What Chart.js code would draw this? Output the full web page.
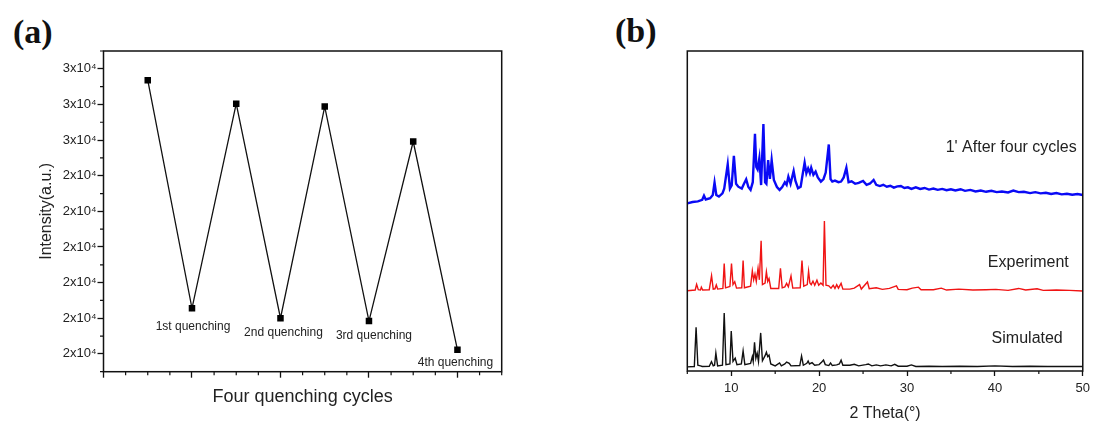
<!DOCTYPE html>
<html>
<head>
<meta charset="utf-8">
<script src="https://cdn.jsdelivr.net/npm/chart.js@4.4.1/dist/chart.umd.min.js"></script>
<style>
html, body { margin: 0; padding: 0; background: #fff; }
#wrap { position: relative; width: 1095px; height: 425px; overflow: hidden; }
canvas { position: absolute; top: 0; }
.tag { position: absolute; font-family: "Liberation Serif", serif; font-weight: bold; font-size: 34px; line-height: 1; color: #111; }
</style>
</head>
<body>
<div id="wrap">
  <div class="tag" style="left:13px;top:15px">(a)</div>
  <div class="tag" style="left:615px;top:14px">(b)</div>
  <canvas id="cycles" width="560" height="425" style="left:0;width:560px;height:425px"></canvas>
  <canvas id="xrd" width="535" height="425" style="left:560px;width:535px;height:425px"></canvas>
</div>
<script>
// ---- panel (a): intensity over quenching cycles ----
const cycleX = [0.5, 1, 1.5, 2, 2.5, 3, 3.5, 4];
const cycleIntensity = [28520, 18920, 27530, 18500, 27410, 18380, 25940, 17170];
const quenchLabels = ['', '1st quenching', '', '2nd quenching', '', '3rd quenching', '', '4th quenching'];
const yTickValues = [17000, 18500, 20000, 21500, 23000, 24500, 26000, 27500, 29000];
const yTickLabels = ['2x10⁴', '2x10⁴', '2x10⁴', '2x10⁴', '2x10⁴', '2x10⁴', '3x10⁴', '3x10⁴', '3x10⁴'];
const cycleTicks = [0, 1, 2, 3, 4];

// ---- panel (b): XRD patterns ----
const simTheta = [5.0, 5.8, 6.0, 6.2, 6.5, 6.7, 7.5, 7.75, 7.95, 8.1, 8.25, 8.45, 9.0, 9.2, 9.4, 9.85, 10.0, 10.2, 10.45, 10.65,
  11.15, 11.35, 11.55, 12.2, 12.4, 12.5, 12.65, 12.8, 12.95, 13.1, 13.35, 13.55, 13.85, 14.0, 14.15, 14.3, 14.5, 15.0, 15.5, 15.7,
  16.1, 16.3, 16.6, 16.8, 17.8, 18.0, 18.2, 18.6, 18.75, 18.9, 19.2, 19.5, 20.0, 20.3, 20.5, 20.7, 21.1, 21.3, 21.5, 22.0,
  22.3, 22.5, 22.7, 23.5, 24.0, 24.5, 25.3, 25.6, 26.0, 26.5, 27.0, 27.6, 28.2, 28.6, 29.0, 30.0, 30.5, 31.0, 32.5, 34.0,
  36.0, 38.0, 40.0, 42.0, 44.0, 46.0, 48.0, 50.0];
const simIntensity = [1.3, 1.4, 13.7, 1.8, 1.6, 1.4, 1.5, 2.9, 1.6, 1.8, 5.6, 1.6, 1.8, 18.1, 2.0, 2.2, 12.5, 3.0, 4.0, 2.0,
  2.2, 6.3, 2.0, 2.4, 4.5, 3.0, 9.0, 4.0, 5.6, 3.0, 11.9, 3.2, 4.8, 5.9, 4.5, 5.0, 2.2, 1.6, 2.5, 1.6,
  2.2, 2.8, 2.4, 1.6, 1.7, 4.7, 1.8, 2.4, 3.1, 2.2, 2.6, 1.8, 2.0, 2.8, 3.4, 2.0, 1.7, 2.5, 1.7, 1.9,
  2.2, 3.4, 1.8, 1.8, 2.1, 1.6, 2.0, 2.2, 1.6, 1.9, 1.6, 1.9, 1.6, 2.1, 1.5, 1.5, 1.9, 1.4, 1.5, 1.4,
  1.5, 1.4, 1.6, 1.4, 1.5, 1.4, 1.4, 1.4];

const expTheta = [5.0, 5.9, 6.06, 6.25, 6.5, 6.6, 6.75, 7.5, 7.76, 7.95, 8.15, 8.3, 8.45, 9.05, 9.2, 9.35, 9.85, 10.03, 10.2, 10.4,
  10.6, 11.2, 11.35, 11.5, 12.2, 12.4, 12.55, 12.7, 12.85, 13.05, 13.2, 13.4, 13.55, 13.85, 14.0, 14.15, 14.3, 14.5, 15.4, 15.6,
  15.8, 16.1, 16.3, 16.5, 16.8, 17.0, 17.85, 18.05, 18.25, 18.65, 18.8, 18.95, 19.1, 19.3, 19.5, 19.75, 19.95, 20.2, 20.45, 20.6,
  20.78, 21.1, 21.35, 21.6, 21.8, 22.0, 22.2, 22.5, 22.7, 23.5, 24.0, 24.6, 24.8, 25.5, 25.7, 26.5, 27.2, 28.0, 28.8, 29.0,
  30.0, 30.6, 31.3, 31.6, 33.0, 33.9, 34.5, 35.9, 37.5, 39.0, 40.1, 41.5, 42.7, 43.5, 44.8, 45.5, 47.0, 48.5, 50.0];
const expIntensity = [25.1, 25.3, 27.1, 25.4, 25.3, 26.2, 25.3, 25.4, 29.8, 25.6, 25.7, 26.9, 25.6, 25.8, 33.6, 26.0, 26.4, 33.6, 27.0, 27.9,
  25.9, 26.0, 34.5, 26.0, 26.5, 31.3, 28.5, 30.3, 28.0, 32.1, 28.5, 40.7, 27.0, 27.5, 31.0, 28.0, 28.9, 25.8, 25.8, 32.1,
  26.0, 26.3, 27.4, 26.3, 29.7, 25.9, 26.0, 34.5, 26.5, 27.0, 31.2, 27.5, 27.0, 28.1, 26.8, 28.4, 26.8, 27.5, 26.8, 46.9,
  26.8, 26.6, 25.9, 26.8, 25.8, 27.0, 25.9, 27.4, 25.6, 25.6, 25.9, 27.0, 25.6, 27.8, 25.7, 26.0, 25.5, 25.8, 26.6, 25.5,
  25.4, 25.9, 26.2, 25.4, 25.4, 25.9, 25.3, 25.6, 25.3, 25.4, 25.5, 25.2, 25.8, 25.3, 25.7, 25.2, 25.3, 25.2, 25.0];

const afterTheta = [5.0, 5.6, 6.2, 6.7, 6.9, 7.1, 7.6, 7.9, 8.1, 8.3, 8.6, 9.0, 9.2, 9.6, 9.85, 10.05, 10.3, 10.55, 10.8, 11.2,
  11.45, 11.7, 11.95, 12.2, 12.45, 12.7, 12.85, 13.0, 13.2, 13.4, 13.66, 13.85, 14.0, 14.2, 14.4, 14.6, 14.85, 15.2, 15.5, 15.8,
  16.1, 16.3, 16.5, 16.75, 17.1, 17.3, 17.6, 17.9, 18.1, 18.35, 18.55, 18.75, 18.95, 19.1, 19.35, 19.6, 19.85, 20.2, 20.5, 20.75,
  21.1, 21.3, 21.5, 21.8, 22.2, 22.5, 22.8, 23.1, 23.35, 23.7, 24.1, 24.5, 25.0, 25.4, 25.8, 26.2, 26.5, 26.9, 27.3, 27.7,
  28.1, 28.5, 28.9, 29.3, 29.7, 30.1, 30.5, 31.0, 31.5, 32.0, 32.5, 33.0, 33.5, 34.0, 34.5, 35.0, 35.5, 36.1, 36.6, 37.2,
  37.8, 38.4, 39.0, 39.6, 40.2, 40.8, 41.5, 42.1, 42.7, 43.3, 44.0, 44.6, 45.2, 45.8, 46.4, 47.0, 47.6, 48.2, 48.8, 49.4, 50.0];
const afterIntensity = [52.4, 52.8, 53.0, 53.5, 54.8, 53.6, 54.0, 55.0, 58.9, 55.0, 54.5, 55.5, 57.0, 64.6, 57.0, 58.0, 67.2, 58.5, 57.6, 57.0,
  58.5, 59.9, 57.5, 56.6, 59.0, 74.1, 63.8, 63.0, 66.5, 58.1, 77.2, 59.0, 58.5, 65.9, 60.0, 65.9, 59.7, 57.5, 56.6, 57.5,
  59.0, 58.2, 60.7, 58.5, 62.5, 59.5, 57.1, 57.6, 61.0, 65.1, 61.8, 63.3, 61.8, 63.5, 61.3, 62.3, 60.5, 59.2, 60.0, 62.0,
  70.8, 60.0, 59.2, 59.5, 59.0, 59.2, 60.5, 63.5, 59.0, 59.3, 58.5, 58.8, 59.4, 58.2, 58.6, 59.7, 58.2, 57.8, 58.2, 57.6,
  57.9, 57.3, 57.7, 57.8, 57.2, 57.4, 56.9, 57.4, 56.9, 57.2, 56.7, 57.0, 56.6, 56.9, 56.5, 56.8, 56.4, 56.8, 56.3, 56.6,
  56.1, 56.4, 56.0, 56.3, 55.9, 56.1, 55.8, 56.4, 55.9, 56.0, 55.6, 55.9, 55.5, 55.7, 55.3, 55.6, 55.2, 55.4, 55.1, 55.3, 55.0];
const seriesNames = ["1' After four cycles", 'Experiment', 'Simulated'];
const thetaTicks = [10, 20, 30, 40, 50];

const FONT = '"Liberation Sans", Arial, sans-serif';
const toPoints = (xs, ys) => xs.map((x, i) => ({ x: x, y: ys[i] }));

// box around the plot area plus the short minor ticks
const frame = {
  id: 'frame',
  afterDraw(chart, args, opts) {
    const { ctx, chartArea: a, scales } = chart;
    ctx.save();
    ctx.strokeStyle = '#111';
    ctx.lineWidth = 1.5;
    ctx.strokeRect(a.left, a.top, a.right - a.left, a.bottom - a.top);
    ctx.lineWidth = 1.2;
    ctx.beginPath();
    (opts.minorX || []).forEach(v => {
      const px = scales.x.getPixelForValue(v);
      ctx.moveTo(px, a.bottom);
      ctx.lineTo(px, a.bottom + opts.minorLen);
    });
    (opts.minorY || []).forEach(v => {
      const py = scales.y.getPixelForValue(v);
      ctx.moveTo(a.left, py);
      ctx.lineTo(a.left - opts.minorLen, py);
    });
    ctx.stroke();
    ctx.restore();
  }
};

// "nth quenching" under the low points
const pointNotes = {
  id: 'pointNotes',
  afterDatasetsDraw(chart, args, opts) {
    const ctx = chart.ctx;
    const meta = chart.getDatasetMeta(0);
    ctx.save();
    ctx.font = '12px ' + FONT;
    ctx.fillStyle = '#222';
    ctx.textAlign = 'center';
    ctx.textBaseline = 'middle';
    quenchLabels.forEach((t, i) => {
      if (!t) return;
      const el = meta.data[i];
      ctx.fillText(t, el.x + opts.dx[i], el.y + opts.dy[i]);
    });
    ctx.restore();
  }
};

// series names at the right end of each pattern
const seriesNotes = {
  id: 'seriesNotes',
  afterDatasetsDraw(chart, args, opts) {
    const ctx = chart.ctx;
    ctx.save();
    ctx.font = '16px ' + FONT;
    ctx.fillStyle = '#222';
    ctx.textAlign = 'right';
    ctx.textBaseline = 'middle';
    chart.data.datasets.forEach((ds, i) => {
      const pts = chart.getDatasetMeta(i).data;
      const last = pts[pts.length - 1];
      ctx.fillText(seriesNames[i], chart.chartArea.right - opts.dx[i], last.y + opts.dy[i]);
    });
    ctx.restore();
  }
};

const yMinor = yTickValues.slice(0, -1).map((v, i) => (v + yTickValues[i + 1]) / 2)
  .concat([yTickValues[0] - 750, yTickValues[yTickValues.length - 1] + 750]);
const xMinor = [];
cycleTicks.forEach(t => { [0.25, 0.5, 0.75].forEach(f => { if (t + f <= 4.5) xMinor.push(t + f); }); });

new Chart(document.getElementById('cycles'), {
  type: 'line',
  data: {
    datasets: [{
      data: toPoints(cycleX, cycleIntensity),
      borderColor: '#111',
      borderWidth: 1.3,
      backgroundColor: '#000',
      pointStyle: 'rect',
      pointRadius: 4.6,
      pointBorderWidth: 0,
      tension: 0
    }]
  },
  options: {
    responsive: false,
    animation: false,
    layout: { padding: { top: 51, right: 58.3, bottom: 0, left: 0 } },
    plugins: {
      legend: { display: false },
      tooltip: { enabled: false },
      frame: { minorX: xMinor, minorY: yMinor, minorLen: 3.5 },
      pointNotes: { dx: [0, 1, 0, 3, 0, 5, 0, -2], dy: [0, 18.4, 0, 14.4, 0, 14.7, 0, 13.3] }
    },
    scales: {
      x: {
        type: 'linear', min: 0, max: 4.5,
        afterFit: s => { s.height = 53.3; },
        afterBuildTicks: s => { s.ticks = cycleTicks.map(v => ({ value: v })); },
        ticks: { callback: () => '', autoSkip: false, maxRotation: 0, padding: 0 },
        grid: { drawOnChartArea: false, tickLength: 6, tickColor: '#111', tickWidth: 1.3 },
        border: { display: false },
        title: { display: true, text: 'Four quenching cycles', color: '#222',
          font: { family: FONT, size: 18 }, padding: { top: 0, bottom: 17 } }
      },
      y: {
        min: yTickValues[0] - 750, max: yTickValues[yTickValues.length - 1] + 750,
        afterFit: s => { s.width = 103.5; },
        afterBuildTicks: s => { s.ticks = yTickValues.map(v => ({ value: v })); },
        ticks: { callback: (v, i) => yTickLabels[i], autoSkip: false, color: '#222',
          font: { family: FONT, size: 13 }, padding: 1 },
        grid: { drawOnChartArea: false, tickLength: 6, tickColor: '#111', tickWidth: 1.3 },
        border: { display: false },
        title: { display: true, text: 'Intensity(a.u.)', color: '#222',
          font: { family: FONT, size: 16 }, padding: { top: 37, bottom: 0 } }
      }
    }
  },
  plugins: [frame, pointNotes]
});

new Chart(document.getElementById('xrd'), {
  type: 'line',
  data: {
    datasets: [
      { data: toPoints(afterTheta, afterIntensity), borderColor: '#0a0af5', borderWidth: 2.4 },
      { data: toPoints(expTheta, expIntensity), borderColor: '#f01414', borderWidth: 1.4 },
      { data: toPoints(simTheta, simIntensity), borderColor: '#111', borderWidth: 1.4 }
    ]
  },
  options: {
    responsive: false,
    animation: false,
    elements: { point: { radius: 0 }, line: { tension: 0 } },
    layout: { padding: { top: 51, right: 11, bottom: 0, left: 127.3 } },
    plugins: {
      legend: { display: false },
      tooltip: { enabled: false },
      frame: { minorX: [5, 15, 25, 35, 45], minorLen: 3 },
      seriesNotes: { dx: [6, 14, 20], dy: [-47, -28, -27.5] }
    },
    scales: {
      x: {
        type: 'linear', min: 5, max: 50,
        afterFit: s => { s.height = 54; },
        afterBuildTicks: s => { s.ticks = thetaTicks.map(v => ({ value: v })); },
        ticks: { autoSkip: false, maxRotation: 0, color: '#222', font: { family: FONT, size: 13 }, padding: 5 },
        grid: { drawOnChartArea: false, tickLength: 5, tickColor: '#111', tickWidth: 1.3 },
        border: { display: false },
        title: { display: true, text: '2 Theta(°)', color: '#222',
          font: { family: FONT, size: 16 }, padding: { top: 0, bottom: 2 } }
      },
      y: { display: false, min: 0, max: 100 }
    }
  },
  plugins: [frame, seriesNotes]
});
</script>
</body>
</html>
